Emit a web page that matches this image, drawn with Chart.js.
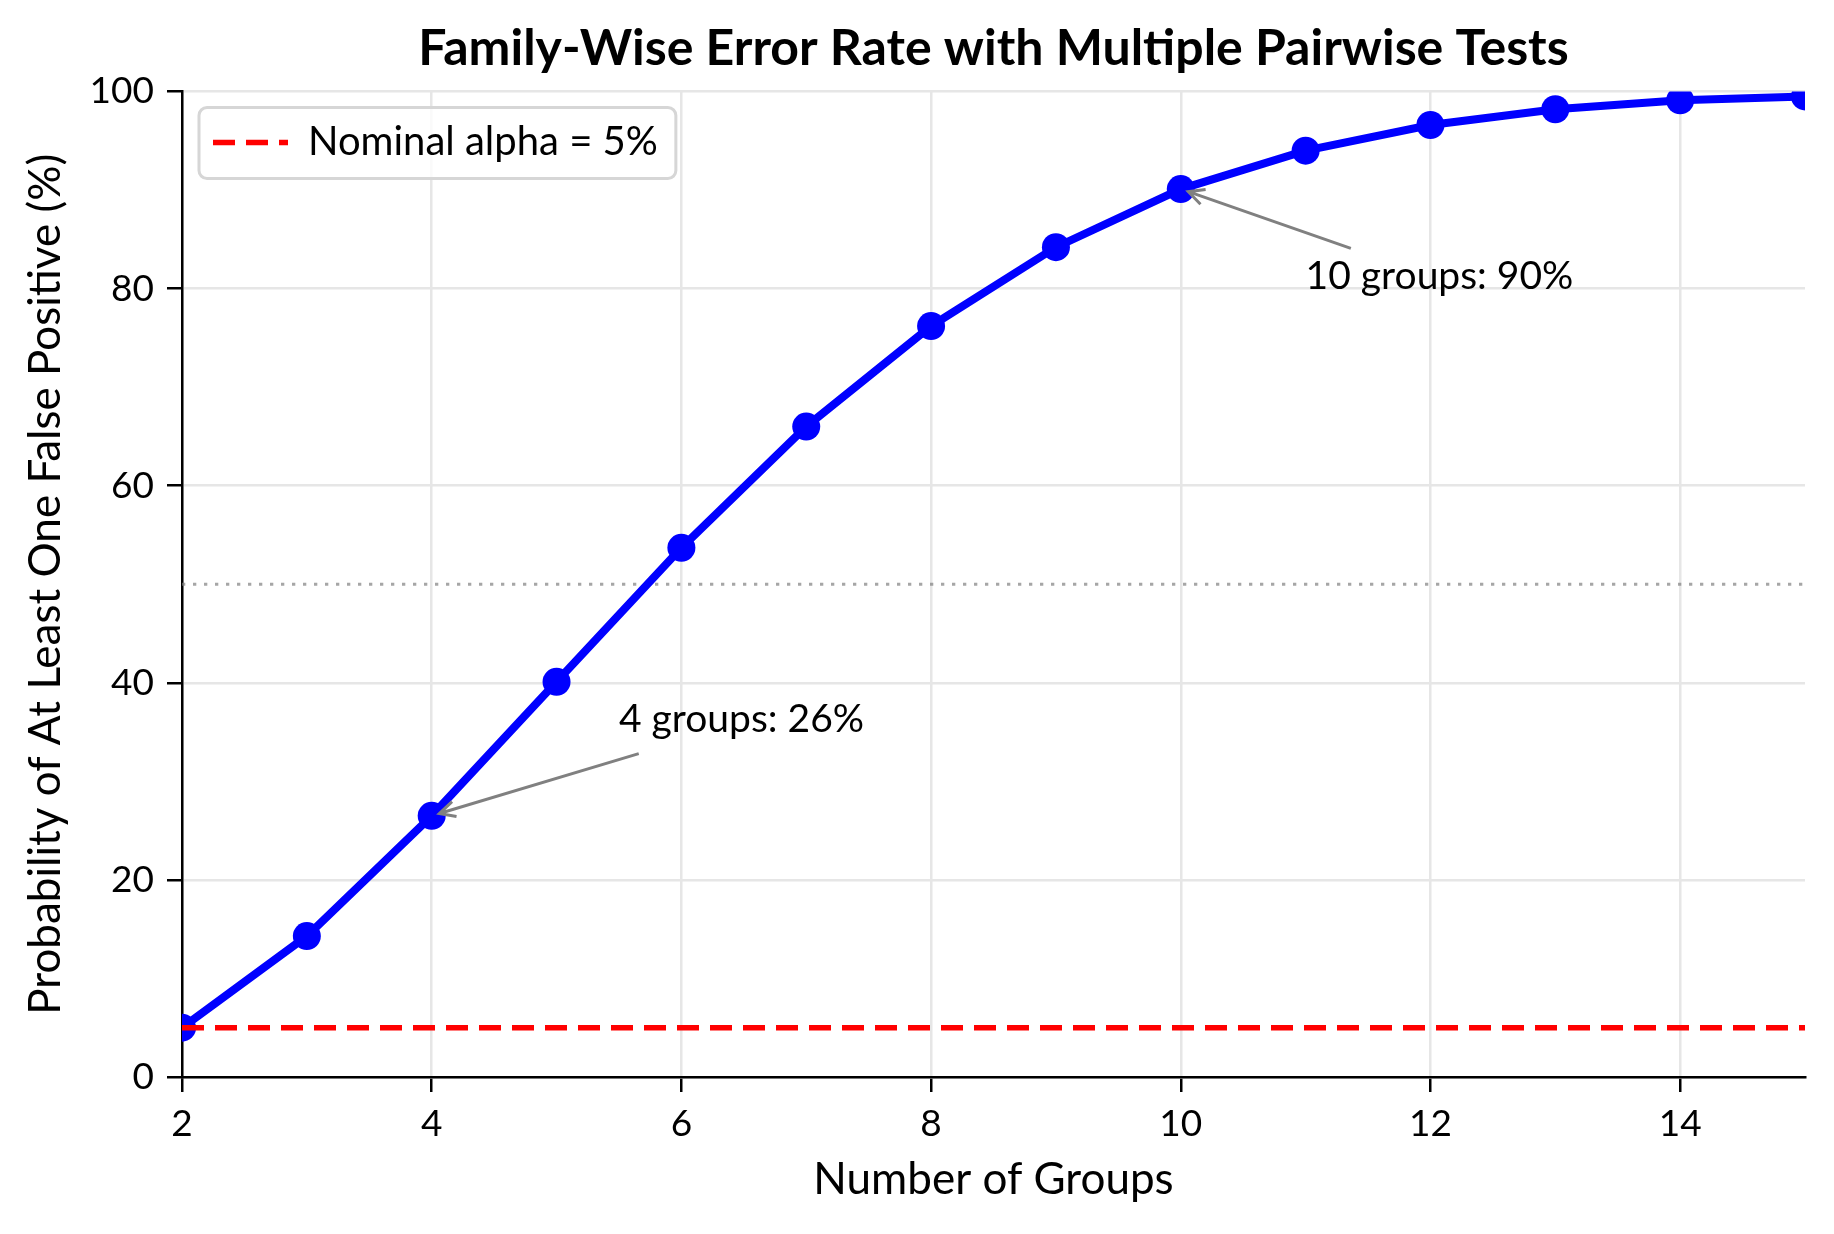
<!DOCTYPE html>
<html>
<head>
<meta charset="utf-8">
<script src="https://cdn.jsdelivr.net/npm/chart.js@4.4.1/dist/chart.umd.min.js"></script>
<style>
  html, body { margin: 0; padding: 0; background: #fff; }
  #wrap { width: 1834px; height: 1234px; }
</style>
</head>
<body>
<div id="wrap"><canvas id="fwerChart"></canvas></div>
<script>
// values
const groupCounts = [2, 3, 4, 5, 6, 7, 8, 9, 10, 11, 12, 13, 14, 15];
const fwerPercent = [5.0, 14.3, 26.5, 40.1, 53.7, 66.0, 76.2, 84.2, 90.1, 94.0, 96.6, 98.2, 99.1, 99.5];
const nominalAlpha = 5;
const halfwayMark = 50;
const xTicks = [2, 4, 6, 8, 10, 12, 14];
const yTicks = [0, 20, 40, 60, 80, 100];

// annotations: group highlighted, where its text sits (data units), text
const noteGroups = [4, 10];
const noteTextX = [5.5, 11];
const noteTextY = [35, 80];
const noteLabels = ['4 groups: 26%', '10 groups: 90%'];

const FONT = 'Lato';
Chart.defaults.font.family = FONT;
Chart.defaults.color = '#000';

function drawLegendFrame(chart) {
    const ctx = chart.ctx;
    const hb = chart.legend && chart.legend.legendHitBoxes[0];
    if (!hb) return;
    ctx.save();
    ctx.beginPath();
    const fx = hb.left - 14, fy = hb.top - 15;
    const fw = hb.width + 32, fh = hb.height + 31;
    if (ctx.roundRect) ctx.roundRect(fx, fy, fw, fh, 8);
    else ctx.rect(fx, fy, fw, fh);
    ctx.fillStyle = 'rgba(255,255,255,0.8)';
    ctx.fill();
    ctx.lineWidth = 3;
    ctx.strokeStyle = '#d6d6d6';
    ctx.stroke();
    ctx.restore();
}

// legend inside the axes (on top of the data) + arrows with text
const notesPlugin = {
    id: 'notes',
    beforeLayout(chart) {
        const lg = chart.legend;
        if (lg) {
            lg._layers = () => [{ z: 1, draw: (area) => { drawLegendFrame(chart); lg.draw(area); } }];
        }
    },
    afterLayout(chart) {
        // chartArea legends start at the canvas top: move them to the plot top
        const lg = chart.legend;
        if (!lg) return;
        const shift = chart.chartArea.top - lg.top;
        lg.top += shift;
        lg.bottom += shift;
        lg.legendHitBoxes.forEach(h => { h.top += shift; });
    },
    afterDatasetsDraw(chart) {
        const ctx = chart.ctx;
        const xs = chart.scales.x, ys = chart.scales.y;
        const fs = 39;
        ctx.save();
        ctx.font = fs + 'px ' + FONT;
        noteGroups.forEach((g, i) => {
            const px = xs.getPixelForValue(g);
            const py = ys.getPixelForValue(fwerPercent[groupCounts.indexOf(g)]);
            const tx = xs.getPixelForValue(noteTextX[i]);
            const ty = ys.getPixelForValue(noteTextY[i]);
            const w = ctx.measureText(noteLabels[i]).width;

            // arrow starts from the text box centre, clipped at the padded box
            const top = ty - 0.75 * fs, bottom = ty + 0.27 * fs;
            const cx = tx + w / 2, cy = (top + bottom) / 2;
            const hw = w / 2 + 11, hh = (bottom - top) / 2 + 11;
            const dx = px - cx, dy = py - cy;
            const len = Math.hypot(dx, dy);
            const t = Math.min(hw / Math.abs(dx), hh / Math.abs(dy));
            const sx = cx + dx * t, sy = cy + dy * t;
            const ux = dx / len, uy = dy / len;
            const ex = px - ux * 8, ey = py - uy * 8;

            ctx.strokeStyle = '#808080';
            ctx.lineWidth = 3;
            ctx.beginPath();
            ctx.moveTo(sx, sy);
            ctx.lineTo(ex, ey);
            // open head "->"
            const hl = 15.6, hwid = 7.8;
            ctx.moveTo(ex - ux * hl - uy * hwid, ey - uy * hl + ux * hwid);
            ctx.lineTo(ex, ey);
            ctx.lineTo(ex - ux * hl + uy * hwid, ey - uy * hl - ux * hwid);
            ctx.stroke();

            ctx.fillStyle = '#000';
            ctx.textAlign = 'left';
            ctx.textBaseline = 'alphabetic';
            ctx.fillText(noteLabels[i], tx, ty);
        });
        ctx.restore();
    }
};

const ctx = document.getElementById('fwerChart').getContext('2d');
const chart = new Chart(ctx, {
    type: 'line',
    data: {
        datasets: [{
            label: 'Nominal alpha = 5%',
            data: [
                { x: groupCounts[0], y: nominalAlpha },
                { x: groupCounts[groupCounts.length - 1], y: nominalAlpha }
            ],
            borderColor: '#ff0000',
            backgroundColor: '#ff0000',
            borderWidth: 5.5,
            borderDash: [22, 11],
            pointRadius: 0,
            clip: 0,
            order: 0
        }, {
            label: 'FWER',
            data: groupCounts.map((g, i) => ({ x: g, y: fwerPercent[i] })),
            borderColor: '#0000ff',
            backgroundColor: '#0000ff',
            borderWidth: 8,
            pointRadius: 14,
            pointBackgroundColor: '#0000ff',
            pointBorderWidth: 0,
            tension: 0,
            clip: 0,
            order: 1
        }, {
            label: '50%',
            data: [
                { x: groupCounts[0], y: halfwayMark },
                { x: groupCounts[groupCounts.length - 1], y: halfwayMark }
            ],
            borderColor: 'rgba(128,128,128,0.7)',
            borderWidth: 3,
            borderDash: [3.3, 7.7],
            pointRadius: 0,
            clip: 0,
            order: 2
        }]
    },
    options: {
        responsive: true,
        maintainAspectRatio: false,
        devicePixelRatio: 1,
        animation: false,
        events: [],
        layout: {
            autoPadding: false,
            padding: { left: 0, right: 29, top: 0, bottom: 0 }
        },
        plugins: {
            title: {
                display: true,
                fullSize: false,
                text: 'Family-Wise Error Rate with Multiple Pairwise Tests',
                color: '#000',
                font: { family: FONT, size: 50, weight: 'bold' },
                padding: { top: 19, bottom: 12.5 }
            },
            legend: {
                position: 'chartArea',
                align: 'start',
                labels: {
                    usePointStyle: true,
                    pointStyle: 'line',
                    pointStyleWidth: 75,
                    padding: 31,
                    color: '#000',
                    font: { family: FONT, size: 40 },
                    filter: item => item.datasetIndex === 0,
                    // keep the dataset's dash and width in the legend sample
                    generateLabels(chart) {
                        const items = Chart.defaults.plugins.legend.labels.generateLabels(chart);
                        items.forEach(it => {
                            const ds = chart.data.datasets[it.datasetIndex];
                            it.lineDash = ds.borderDash || [];
                            it.lineDashOffset = 0;
                            it.lineWidth = ds.borderWidth;
                            it.strokeStyle = ds.borderColor;
                        });
                        return items;
                    }
                }
            },
            tooltip: { enabled: false }
        },
        scales: {
            x: {
                type: 'linear',
                min: 2,
                max: 15,
                afterBuildTicks: s => { s.ticks = xTicks.map(v => ({ value: v })); },
                afterFit: s => { s.height = 157; },
                ticks: { color: '#000', font: { size: 37 }, padding: 10, maxRotation: 0 },
                grid: { color: '#e6e6e6', lineWidth: 2.5, tickLength: 15, tickColor: '#000', tickWidth: 2.5 },
                border: { color: '#000', width: 2.5 },
                title: {
                    display: true,
                    text: 'Number of Groups',
                    color: '#000',
                    font: { size: 44 },
                    padding: { top: 0, bottom: 28 }
                }
            },
            y: {
                type: 'linear',
                min: 0,
                max: 100,
                afterBuildTicks: s => { s.ticks = yTicks.map(v => ({ value: v })); },
                afterFit: s => { s.width = 182; },
                ticks: { color: '#000', font: { size: 37 }, padding: 13 },
                grid: { color: '#e6e6e6', lineWidth: 2.5, tickLength: 15, tickColor: '#000', tickWidth: 2.5 },
                border: { color: '#000', width: 2.5 },
                title: {
                    display: true,
                    text: 'Probability of At Least One False Positive (%)',
                    color: '#000',
                    font: { size: 44 },
                    padding: { top: 19, bottom: 0 }
                }
            }
        }
    },
    plugins: [notesPlugin]
});
</script>
</body>
</html>
